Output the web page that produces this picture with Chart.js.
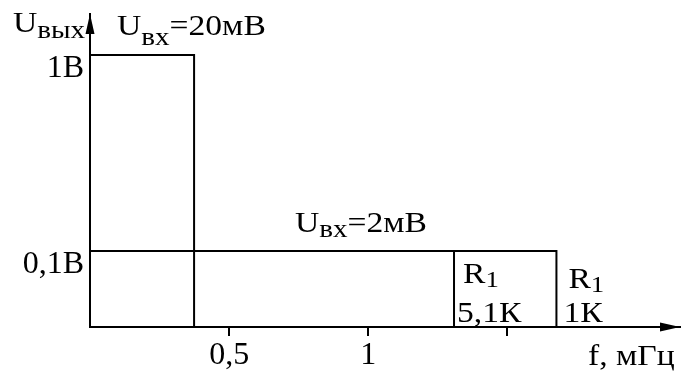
<!DOCTYPE html>
<html>
<head>
<meta charset="utf-8">
<script src="https://cdn.jsdelivr.net/npm/chart.js@4.4.1/dist/chart.umd.min.js"></script>
<style>
  html, body { margin: 0; padding: 0; background: #fff; }
  #wrap { width: 692px; height: 371px; position: relative; }
</style>
</head>
<body>
<div id="wrap"><canvas id="afcChart"></canvas></div>
<script>
// частота, мГц
const freqTicks = [0.5, 1, 1.5];
const freqTickLabels = ['0,5', '1', ''];
// выходное напряжение, В
const levelTicks = [0.1, 1];
const levelTickLabels = ['0,1В', '1В'];

// границы полосы
const band20mV = [0, 0.374];      // Uвх = 20 мВ
const band2mV = [0, 1.676];        // Uвх = 2 мВ, R1 = 1К
const edge5k1 = 1.308;             // R1 = 5,1К
const outLevels = [1, 0.1];        // 1В и 0,1В

const yFloor = 0.0409;
const yTop = 1.62;
const xMax = 2.12;

const serif = "'Liberation Serif', 'Times New Roman', serif";

// подписи с нижним индексом
function drawLabel(ctx, x, y, parts) {
  const sx = 1.12;
  ctx.save();
  ctx.translate(x, y);
  ctx.scale(sx, 1);
  let cx = 0;
  parts.forEach(p => {
    ctx.font = p.size + 'px ' + serif;
    ctx.fillText(p.t, cx, p.dy || 0);
    cx += ctx.measureText(p.t).width;
  });
  ctx.restore();
}

const annotations = {
  id: 'annotations',
  afterDraw(chart) {
    const ctx = chart.ctx;
    const area = chart.chartArea;
    const xs = chart.scales.x;
    ctx.save();
    ctx.fillStyle = '#000';
    ctx.textBaseline = 'alphabetic';
    ctx.textAlign = 'left';

    // стрелки осей
    ctx.beginPath();
    ctx.moveTo(area.right, area.bottom);
    ctx.lineTo(area.right - 20, area.bottom - 4.5);
    ctx.lineTo(area.right - 20, area.bottom + 4.5);
    ctx.closePath();
    ctx.fill();
    ctx.beginPath();
    ctx.moveTo(area.left, area.top);
    ctx.lineTo(area.left - 4.5, area.top + 20);
    ctx.lineTo(area.left + 4.5, area.top + 20);
    ctx.closePath();
    ctx.fill();

    drawLabel(ctx, 13, 32, [{t: 'U', size: 30}, {t: 'вых', size: 26, dy: 6}]);
    drawLabel(ctx, 117, 35, [{t: 'U', size: 30}, {t: 'вх', size: 26, dy: 10}, {t: '=20мВ', size: 30}]);
    drawLabel(ctx, 295, 232, [{t: 'U', size: 30}, {t: 'вх', size: 26, dy: 5}, {t: '=2мВ', size: 30}]);

    const e1 = xs.getPixelForValue(edge5k1);
    drawLabel(ctx, e1 + 9, 283, [{t: 'R', size: 30}, {t: '1', size: 24, dy: 4}]);
    drawLabel(ctx, e1 + 3, 322, [{t: '5,1К', size: 30}]);
    const e2 = xs.getPixelForValue(band2mV[1]);
    drawLabel(ctx, e2 + 12, 288, [{t: 'R', size: 30}, {t: '1', size: 24, dy: 4}]);
    drawLabel(ctx, e2 + 7, 322, [{t: '1К', size: 30}]);

    drawLabel(ctx, 588, 365, [{t: 'f, мГц', size: 30}]);
    ctx.restore();
  }
};

const lineStyle = {
  borderColor: '#000',
  borderWidth: 2,
  pointRadius: 0,
  showLine: true,
  fill: false,
  tension: 0
};

new Chart(document.getElementById('afcChart').getContext('2d'), {
  type: 'scatter',
  data: {
    datasets: [
      Object.assign({
        label: 'Uвх=20мВ',
        data: [
          {x: band20mV[0], y: outLevels[0]},
          {x: band20mV[1], y: outLevels[0]},
          {x: band20mV[1], y: yFloor}
        ]
      }, lineStyle),
      Object.assign({
        label: 'Uвх=2мВ',
        data: [
          {x: band2mV[0], y: outLevels[1]},
          {x: band2mV[1], y: outLevels[1]},
          {x: band2mV[1], y: yFloor}
        ]
      }, lineStyle),
      Object.assign({
        label: 'R1 5,1К',
        data: [
          {x: edge5k1, y: outLevels[1]},
          {x: edge5k1, y: yFloor}
        ]
      }, lineStyle)
    ]
  },
  options: {
    responsive: true,
    maintainAspectRatio: false,
    animation: false,
    layout: { padding: { left: 0, top: 14, right: 12, bottom: 0 } },
    plugins: {
      legend: { display: false },
      tooltip: { enabled: false }
    },
    scales: {
      x: {
        type: 'linear',
        min: 0,
        max: xMax,
        afterBuildTicks: s => { s.ticks = freqTicks.map(v => ({value: v})); },
        afterFit: s => { s.height = 44; s.paddingLeft = 0; s.paddingRight = 0; },
        grid: {
          drawOnChartArea: false,
          drawTicks: true,
          tickLength: 9,
          color: '#000',
          lineWidth: 2
        },
        border: { display: true, color: '#000', width: 2 },
        ticks: {
          color: '#000',
          font: { family: serif, size: 32 },
          padding: 0,
          maxRotation: 0,
          autoSkip: false,
          callback: (v, i) => freqTickLabels[i]
        }
      },
      y: {
        type: 'logarithmic',
        min: yFloor,
        max: yTop,
        afterBuildTicks: s => { s.ticks = levelTicks.map(v => ({value: v})); },
        afterFit: s => { s.width = 90; s.paddingTop = 0; s.paddingBottom = 0; },
        grid: { display: false, drawTicks: false },
        border: { display: true, color: '#000', width: 2 },
        ticks: {
          color: '#000',
          font: { family: serif, size: 32 },
          padding: 6,
          labelOffset: 14,
          autoSkip: false,
          callback: (v, i) => levelTickLabels[i]
        }
      }
    }
  },
  plugins: [annotations]
});
</script>
</body>
</html>
